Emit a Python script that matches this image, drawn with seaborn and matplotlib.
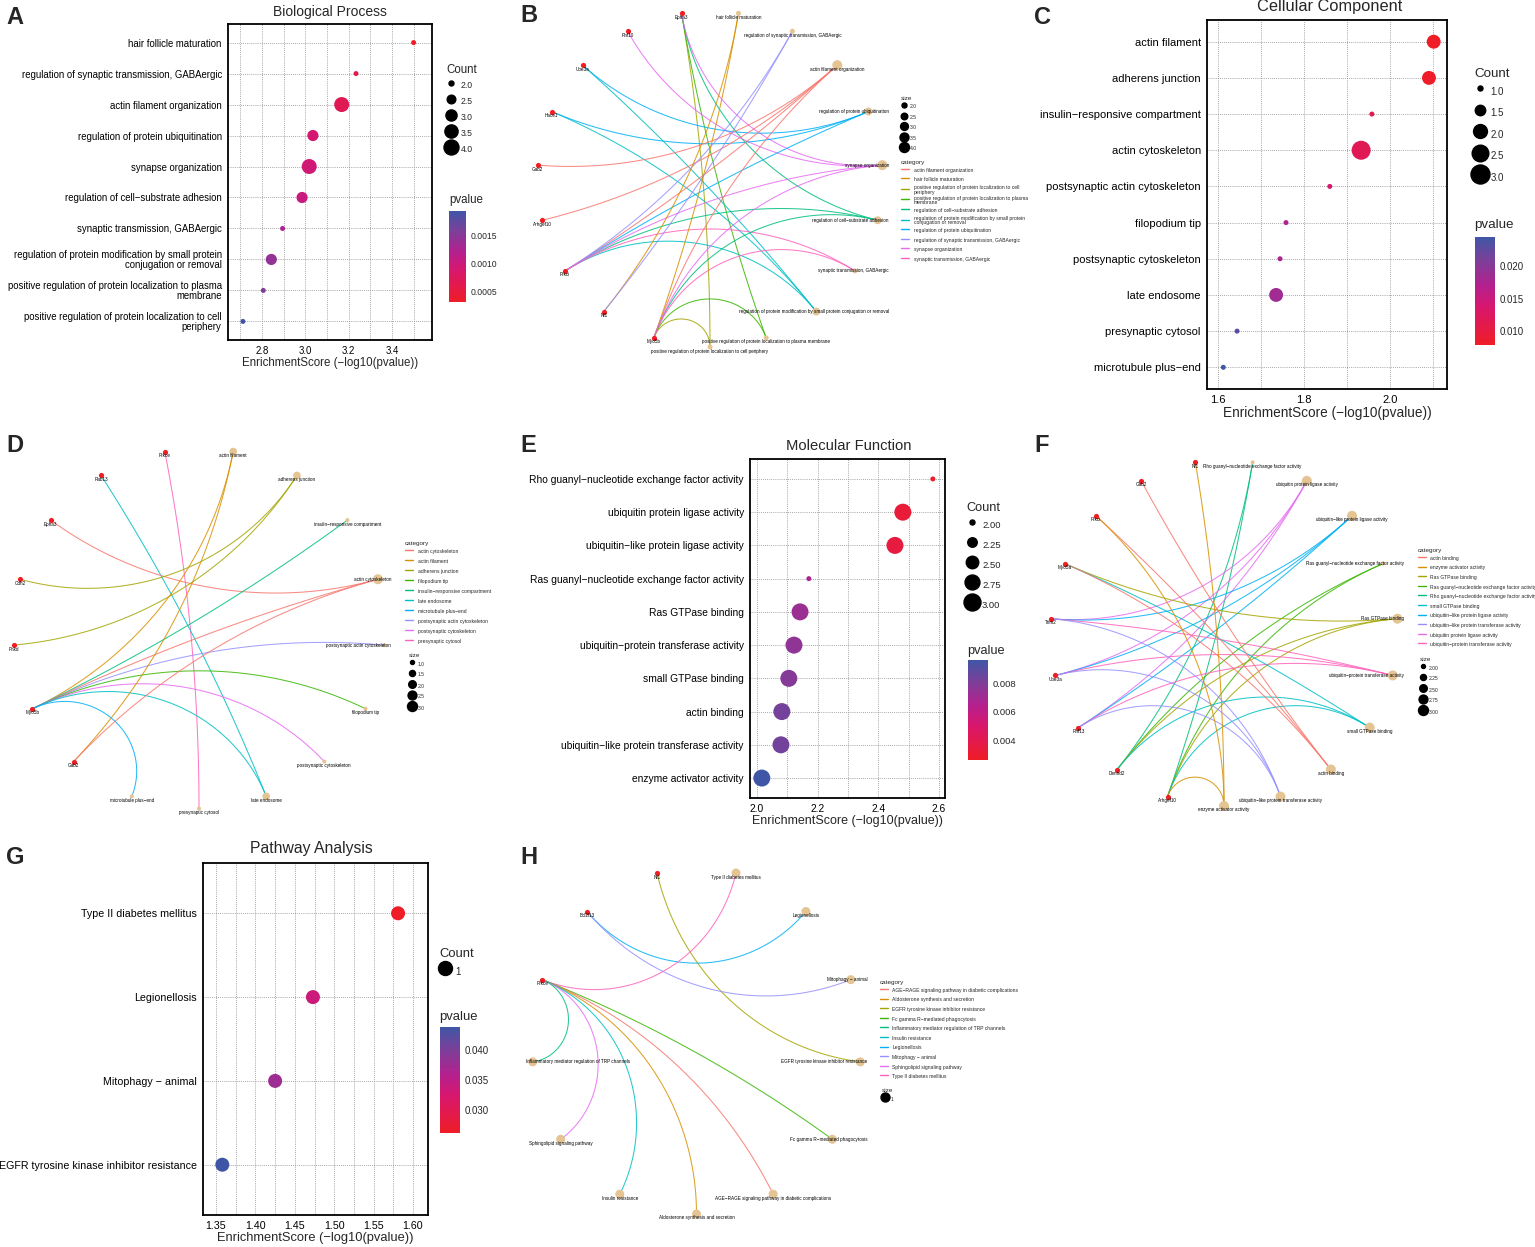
import numpy as np
import pandas as pd
import matplotlib
matplotlib.use("Agg")
import matplotlib.pyplot as plt
from matplotlib.colors import LinearSegmentedColormap, Normalize
from matplotlib.lines import Line2D
import seaborn as sns

sns.set_style("white")
plt.rcParams["font.family"] = ["Liberation Sans", "DejaVu Sans"]

W, H = 1535, 1247

# ---------------- data ----------------
bp_terms = ["hair follicle maturation",
            "regulation of synaptic transmission, GABAergic",
            "actin filament organization",
            "regulation of protein ubiquitination",
            "synapse organization",
            "regulation of cell\u2212substrate adhesion",
            "synaptic transmission, GABAergic",
            "regulation of protein modification by small protein\nconjugation or removal",
            "positive regulation of protein localization to plasma\nmembrane",
            "positive regulation of protein localization to cell\nperiphery"]
bp_score = [3.50, 3.234, 3.168, 3.035, 3.018, 2.985, 2.895, 2.843, 2.806, 2.712]
bp_count = [2, 2, 4, 3, 4, 3, 2, 3, 2, 2]

cc_terms = ["actin filament", "adherens junction", "insulin\u2212responsive compartment",
            "actin cytoskeleton", "postsynaptic actin cytoskeleton", "filopodium tip",
            "postsynaptic cytoskeleton", "late endosome", "presynaptic cytosol",
            "microtubule plus\u2212end"]
cc_score = [2.102, 2.091, 1.958, 1.933, 1.860, 1.758, 1.744, 1.735, 1.644, 1.612]
cc_count = [2, 2, 1, 3, 1, 1, 1, 2, 1, 1]

mf_terms = ["Rho guanyl\u2212nucleotide exchange factor activity",
            "ubiquitin protein ligase activity",
            "ubiquitin\u2212like protein ligase activity",
            "Ras guanyl\u2212nucleotide exchange factor activity",
            "Ras GTPase binding",
            "ubiquitin\u2212protein transferase activity",
            "small GTPase binding",
            "actin binding",
            "ubiquitin\u2212like protein transferase activity",
            "enzyme activator activity"]
mf_score = [2.580, 2.481, 2.455, 2.171, 2.142, 2.122, 2.105, 2.082, 2.079, 2.016]
mf_count = [2, 3, 3, 2, 3, 3, 3, 3, 3, 3]

kegg_terms = ["Type II diabetes mellitus", "Legionellosis", "Mitophagy \u2212 animal",
              "EGFR tyrosine kinase inhibitor resistance"]
kegg_score = [1.581, 1.473, 1.425, 1.358]
kegg_count = [1, 1, 1, 1]

# network data (categories in circle order, then genes)
bp_cats = [t.replace("\n", " ") for t in bp_terms]
bp_genes = ["Myo5b", "Nf1", "Prkci", "Arhgef10", "Gab2", "Hace1", "Ube3a", "Rnf10", "Epha3"]
bp_links = [("Epha3", 9), ("Epha3", 8), ("Epha3", 5), ("Epha3", 4),
            ("Rnf10", 4),
            ("Ube3a", 7), ("Ube3a", 3),
            ("Hace1", 7), ("Hace1", 3),
            ("Gab2", 2), ("Arhgef10", 2),
            ("Prkci", 2), ("Prkci", 5), ("Prkci", 7), ("Prkci", 3), ("Prkci", 1),
            ("Prkci", 4), ("Prkci", 6),
            ("Nf1", 0), ("Nf1", 1),
            ("Myo5b", 2), ("Myo5b", 0), ("Myo5b", 9), ("Myo5b", 8), ("Myo5b", 5),
            ("Myo5b", 4), ("Myo5b", 6)]
bp_legend_idx = [2, 0, 9, 8, 5, 7, 3, 1, 4, 6]

cc_cats = cc_terms
cc_genes = ["Gab2", "Myo5b", "Pnkd", "Cdh2", "Epha3", "Rab13", "Prkce"]
cc_links = [("Prkce", 8), ("Rab13", 7), ("Epha3", 3), ("Cdh2", 1), ("Pnkd", 1),
            ("Myo5b", 0), ("Myo5b", 2), ("Myo5b", 3), ("Myo5b", 4), ("Myo5b", 5),
            ("Myo5b", 6), ("Myo5b", 7), ("Myo5b", 9),
            ("Gab2", 0), ("Gab2", 3)]
cc_legend_idx = [3, 0, 1, 5, 2, 7, 9, 4, 6, 8]

mf_cats = mf_terms
mf_genes = ["Arhgef10", "Dennd2", "Rnf13", "Ube3a", "Trim2", "Myo5a", "Prkci", "Gab2", "Nf1"]
mf_links = [("Dennd2", 0), ("Arhgef10", 0),
            ("Trim2", 1), ("Ube3a", 1), ("Rnf13", 1),
            ("Trim2", 2), ("Ube3a", 2), ("Rnf13", 2),
            ("Dennd2", 3), ("Arhgef10", 3),
            ("Myo5a", 4), ("Dennd2", 4), ("Arhgef10", 4),
            ("Trim2", 5), ("Ube3a", 5), ("Rnf13", 5),
            ("Myo5a", 6), ("Dennd2", 6), ("Arhgef10", 6),
            ("Gab2", 7), ("Prkci", 7), ("Myo5a", 7),
            ("Trim2", 8), ("Ube3a", 8), ("Rnf13", 8),
            ("Nf1", 9), ("Prkci", 9), ("Arhgef10", 9)]
mf_legend_idx = [7, 9, 4, 3, 0, 6, 2, 8, 1, 5]

kegg_cats = ["Type II diabetes mellitus", "Legionellosis", "Mitophagy \u2212 animal",
             "EGFR tyrosine kinase inhibitor resistance",
             "Fc gamma R\u2212mediated phagocytosis",
             "AGE\u2212RAGE signaling pathway in diabetic complications",
             "Aldosterone synthesis and secretion", "Insulin resistance",
             "Sphingolipid signaling pathway",
             "Inflammatory mediator regulation of TRP channels"]
kegg_genes = ["Prkce", "Bcl2l13", "Nf1"]
kegg_links = [("Nf1", 3), ("Bcl2l13", 1), ("Bcl2l13", 2),
              ("Prkce", 0), ("Prkce", 4), ("Prkce", 5), ("Prkce", 6), ("Prkce", 7),
              ("Prkce", 8), ("Prkce", 9)]
kegg_legend_idx = [5, 6, 3, 4, 9, 7, 1, 2, 8, 0]

# ---------------- style ----------------
hue10 = ["#F8766D", "#D89000", "#A3A500", "#39B600", "#00BF7D",
         "#00BFC4", "#00B0F6", "#9590FF", "#E76BF3", "#FF62BC"]
cmap = LinearSegmentedColormap.from_list(
    "pv", [(0.0, "#EF1D26"), (0.35, "#D8176E"), (0.55, "#B4208E"),
           (0.78, "#7D3F99"), (1.0, "#3F56A6")])

fig = plt.figure(figsize=(W / 100, H / 100), dpi=100)
renderer = fig.canvas.get_renderer()


def px_rect(l, t, r, b):
    return [l / W, 1 - b / H, (r - l) / W, (b - t) / H]


def area(c, c0, c1, d0, d1):
    # linear in area between two diameters (px)
    a0 = (d0 * 0.72) ** 2
    a1 = (d1 * 0.72) ** 2
    if c1 == c0:
        return a0
    return a0 + (c - c0) * (a1 - a0) / (c1 - c0)


def add_legend(handles, labels, title, x, y, fs, tfs, pitch_px, hl=1.0, tp=0.6):
    # row pitch in px -> handleheight (matplotlib's handle box = fs*(0.65*hh+0.245))
    pitch_pt = pitch_px * 0.72
    hh = ((pitch_pt - 0.2 * fs) / fs - 0.245) / 0.65
    hh = max(hh, 0.7)
    leg = fig.legend(handles, labels, title=title, loc="upper left",
                     bbox_to_anchor=(x / W, 1 - y / H), frameon=False,
                     fontsize=fs, title_fontsize=tfs, labelspacing=0.2,
                     handleheight=hh, handlelength=hl, handletextpad=tp,
                     borderpad=0, borderaxespad=0, alignment="left")
    for t in leg.get_texts():
        t.set_linespacing(0.9)
    return leg


def dot_panel(box, terms, score, count, title, title_xy, xlim, xticks, tickfmt, minor,
              dsize, fs, tfs, lfs, lab_pad, leg):
    ax = fig.add_axes(px_rect(*box))
    df = pd.DataFrame({"term": terms, "score": score, "Count": count})
    df["pvalue"] = 10 ** (-df["score"])
    norm = Normalize(df["pvalue"].min(), df["pvalue"].max())
    c0, c1 = min(count), max(count)
    sizes = {c: area(c, c0, c1, dsize[0], dsize[1]) for c in sorted(set(count))}
    sns.scatterplot(data=df, x="score", y="term", hue="pvalue", palette=cmap,
                    hue_norm=norm, size="Count", sizes=sizes, legend=False,
                    linewidth=0, ax=ax, zorder=3)
    n = len(terms)
    ax.set_ylim(n - 0.4, -0.6)
    ax.set_xlim(*xlim)
    ax.set_xticks(xticks)
    ax.set_xticks(minor, minor=True)
    ax.set_xticklabels([tickfmt.format(t) for t in xticks])
    ax.set_axisbelow(True)
    ax.grid(True, which="major", ls=(0, (1, 1.5)), color="#8a8a8a", lw=0.6)
    ax.grid(True, which="minor", axis="x", ls=(0, (1, 1.5)), color="#8a8a8a", lw=0.6)
    for s in ax.spines.values():
        s.set_linewidth(1.3)
        s.set_color("black")
    ax.tick_params(axis="both", which="major", length=3, width=0.8, pad=1.5,
                   labelsize=fs, colors="black", direction="out")
    ax.tick_params(axis="x", which="minor", length=0)
    for lab in ax.get_yticklabels():
        lab.set_linespacing(0.95)
    ax.set_ylabel("")
    ax.set_xlabel("EnrichmentScore (\u2212log10(pvalue))", fontsize=lfs, labelpad=lab_pad)
    fig.text(title_xy[0] / W, 1 - title_xy[1] / H, title, fontsize=tfs,
             ha="center", va="center")

    # size legend
    lx, ly, lfs_leg, ltfs, pitch, vals, lab_fmt = leg["count"]
    handles = [Line2D([], [], ls="", marker="o", color="black",
                      markersize=np.sqrt(area(v, c0, c1, dsize[0], dsize[1])))
               for v in vals]
    add_legend(handles, [lab_fmt.format(v) for v in vals], "Count", lx, ly,
               lfs_leg, ltfs, pitch, hl=1.2, tp=0.5)
    # colorbar
    px, py, cb_box, ticks, tfmt = leg["pvalue"]
    fig.text(px / W, 1 - py / H, "pvalue", fontsize=ltfs, ha="left", va="center")
    cax = fig.add_axes(px_rect(*cb_box))
    cb = fig.colorbar(plt.cm.ScalarMappable(norm=norm, cmap=cmap), cax=cax)
    cb.outline.set_visible(False)
    cb.set_ticks(ticks)
    cb.set_ticklabels([tfmt.format(t) for t in ticks])
    cax.tick_params(length=3, width=0.8, color="white", direction="in",
                    labelsize=lfs_leg, pad=3)
    return ax


# ---------------- dot plots ----------------
dot_panel((228, 24, 432, 340), bp_terms, bp_score, bp_count, "Biological Process",
          (330, 12), (2.643, 3.585), [2.8, 3.0, 3.2, 3.4], "{:.1f}",
          [2.7, 2.9, 3.1, 3.3, 3.5], (5, 15), 6.9, 10.0, 8.3, 0.5,
          {"count": (446, 64, 6.2, 8.3, 16, [2.0, 2.5, 3.0, 3.5, 4.0], "{:.1f}"),
           "pvalue": (449, 200, (449, 211, 466, 302), [0.0005, 0.0010, 0.0015], "{:.4f}")})

dot_panel((1207, 20, 1447, 389), cc_terms, cc_score, cc_count, "Cellular Component",
          (1330, 6), (1.574, 2.133), [1.6, 1.8, 2.0], "{:.1f}",
          [1.7, 1.9, 2.1], (5, 19), 8.05, 11.8, 9.8, 0.5,
          {"count": (1474, 68, 7.0, 9.6, 21.5, [1.0, 1.5, 2.0, 2.5, 3.0], "{:.1f}"),
           "pvalue": (1474, 225, (1475, 237, 1495, 345), [0.010, 0.015, 0.020], "{:.3f}")})

dot_panel((750, 459, 945, 798), mf_terms, mf_score, mf_count, "Molecular Function",
          (849, 446), (1.977, 2.620), [2.0, 2.2, 2.4, 2.6], "{:.1f}",
          [2.1, 2.3, 2.5], (5, 17), 7.4, 10.6, 9.0, 0.5,
          {"count": (966, 502, 6.8, 9.2, 20, [2.00, 2.25, 2.50, 2.75, 3.00], "{:.2f}"),
           "pvalue": (967, 651, (968, 660, 988, 760), [0.004, 0.006, 0.008], "{:.3f}")})

dot_panel((203, 863, 428, 1215), kegg_terms, kegg_score, kegg_count, "Pathway Analysis",
          (311, 849), (1.3335, 1.619), [1.35, 1.40, 1.45, 1.50, 1.55, 1.60], "{:.2f}",
          [1.375, 1.425, 1.475, 1.525, 1.575], (14, 14), 7.7, 11.3, 9.3, 0.5,
          {"count": (439, 948, 7.0, 9.4, 22, [1], "{:d}"),
           "pvalue": (439, 1017, (440, 1027, 460, 1133), [0.030, 0.035, 0.040], "{:.3f}")})


# ---------------- networks ----------------
def geodesic(a1, a2, n=90):
    # arc orthogonal to the layout circle between two nodes
    p1 = np.array([np.cos(a1), np.sin(a1)])
    p2 = np.array([np.cos(a2), np.sin(a2)])
    d = abs((a2 - a1 + np.pi) % (2 * np.pi) - np.pi)
    h = d / 2
    if np.pi / 2 - h < 0.01:
        t = np.linspace(0, 1, n)[:, None]
        return p1 + (p2 - p1) * t
    mid = (p1 + p2)
    mid = mid / np.linalg.norm(mid)
    c = mid / np.cos(h)
    r = np.tan(h)
    t1 = np.arctan2(*(p1 - c)[::-1])
    t2 = np.arctan2(*(p2 - c)[::-1])
    dt = (t2 - t1 + np.pi) % (2 * np.pi) - np.pi
    ts = t1 + dt * np.linspace(0, 1, n)
    return np.column_stack([c[0] + r * np.cos(ts), c[1] + r * np.sin(ts)])


def network_panel(center, rx, ry, cats, genes, links, legend_idx, legend_labels, dsize,
                  cat_leg, size_leg):
    cx, cy = center
    ax = fig.add_axes(px_rect(cx - rx, cy - ry, cx + rx, cy + ry))
    ax.set_xlim(-1, 1)
    ax.set_ylim(-1, 1)
    ax.axis("off")
    names = list(cats) + list(genes)
    n = len(names)
    theta = (np.arange(n) + 0.5) * 2 * np.pi / n
    ang = np.pi / 2 - theta
    pos = {nm: (np.cos(a), np.sin(a), a) for nm, a in zip(names, ang)}
    legend_order = [cats[i] for i in legend_idx]
    colors = dict(zip(legend_order, hue10))
    counts = {c: 0 for c in cats}
    for g, ci in links:
        counts[cats[ci]] += 1
    for g, ci in links:
        pts = geodesic(pos[g][2], pos[cats[ci]][2])
        ax.plot(pts[:, 0], pts[:, 1], color=colors[cats[ci]], lw=0.75, alpha=0.85,
                solid_capstyle="round", clip_on=False, zorder=1)
    cvals = sorted(set(counts.values()))
    c0, c1 = cvals[0], cvals[-1]
    nodes = pd.DataFrame({
        "x": [pos[c][0] for c in cats], "y": [pos[c][1] for c in cats],
        "size": [counts[c] for c in cats]})
    sizes = {v: area(v, c0, c1, dsize[0], dsize[1]) for v in cvals}
    sns.scatterplot(data=nodes, x="x", y="y", size="size", sizes=sizes,
                    color="#E5C494", linewidth=0, legend=False, ax=ax,
                    clip_on=False, zorder=2)
    gnodes = pd.DataFrame({"x": [pos[g][0] for g in genes], "y": [pos[g][1] for g in genes]})
    sns.scatterplot(data=gnodes, x="x", y="y", color="#F01E23", s=14, linewidth=0,
                    legend=False, ax=ax, clip_on=False, zorder=3)
    ax.set_xlabel("")
    ax.set_ylabel("")
    dy = 4.0 / ry
    # labels kept inside the panel bounds (as a repel would do)
    lim = 6.0
    for nm in names:
        x, y, _ = pos[nm]
        t = ax.text(x, y - dy, nm, fontsize=3.3, ha="center", va="center",
                    color="black", zorder=4, clip_on=False)
        w = t.get_window_extent(renderer).width
        xc = cx + rx * x
        if xc + w / 2 > cx + rx + lim:
            t.set_x(x - (xc + w / 2 - (cx + rx + lim)) / rx)
            t.set_y(y)
        elif xc - w / 2 < cx - rx - lim:
            t.set_x(x + ((cx - rx - lim) - (xc - w / 2)) / rx)
            t.set_y(y)
    # legends
    cx_, cy_, pitch_c = cat_leg
    hs = [Line2D([], [], color=colors[c], lw=1.0) for c in legend_order]
    labs = [legend_labels[i] for i in legend_idx]
    add_legend(hs, labs, "category", cx_, cy_, 3.6, 4.6, pitch_c, hl=1.6, tp=0.9)
    sx, sy, pitch_s = size_leg
    if len(cvals) > 1:
        vals = np.linspace(c0, c1, 5)
        hs = [Line2D([], [], ls="", marker="o", color="black",
                     markersize=np.sqrt(area(v, c0, c1, dsize[0], dsize[1]))) for v in vals]
        fmt = "{:.2f}" if (c1 - c0) == 1 else "{:.1f}"
        labs = [fmt.format(v) for v in vals]
    else:
        hs = [Line2D([], [], ls="", marker="o", color="black",
                     markersize=np.sqrt(sizes[cvals[0]]))]
        labs = [str(cvals[0])]
    add_legend(hs, labs, "size", sx, sy, 3.6, 4.6, pitch_s, hl=1.0, tp=0.8)
    return ax


network_panel((710, 179), 173, 168, bp_cats, bp_genes, bp_links, bp_legend_idx, bp_terms,
              (5, 10), (901, 160, 9.5), (901, 96, 10.5))
network_panel((199, 628.5), 186, 180, cc_cats, cc_genes, cc_links, cc_legend_idx, cc_cats,
              (4, 10), (405, 541, 10.0), (409, 653, 11))
network_panel((1224, 633), 174, 173, mf_cats, mf_genes, mf_links, mf_legend_idx, mf_cats,
              (4, 10), (1418, 548, 9.6), (1420, 657, 11))
network_panel((696.5, 1041), 165, 173, kegg_cats, kegg_genes, kegg_links, kegg_legend_idx,
              kegg_cats, (9, 9), (880, 980, 9.6), (882, 1088, 12))

# ---------------- panel letters ----------------
for letter, (x, y) in {"A": (6, 17), "B": (520, 16), "C": (1034, 17), "D": (6, 445),
                       "E": (520, 445), "F": (1034, 445), "G": (6, 858),
                       "H": (520, 858)}.items():
    fig.text(x / W, 1 - y / H, letter, fontsize=17, fontweight="bold",
             ha="left", va="center")

fig.savefig("out.png", dpi=100)
